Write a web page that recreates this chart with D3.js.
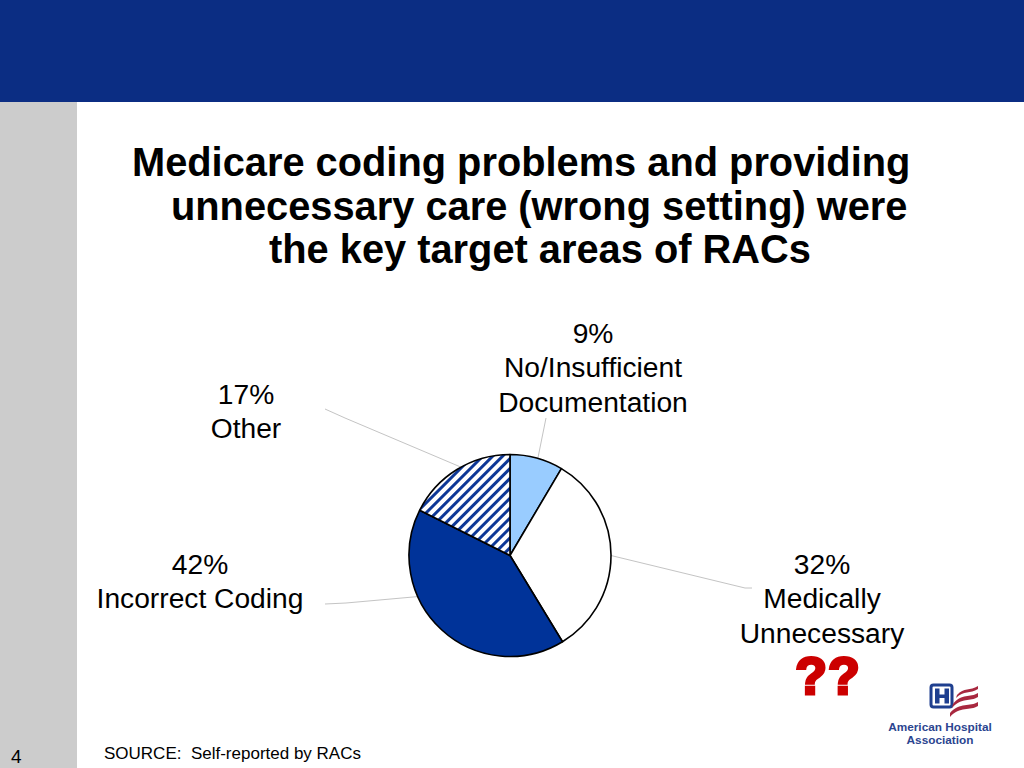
<!DOCTYPE html>
<html>
<head>
<meta charset="utf-8">
<script src="https://cdn.jsdelivr.net/npm/d3@7"></script>
<style>
  html, body { margin: 0; padding: 0; background: #fff; }
  svg { display: block; }
  text { font-family: "Liberation Sans", Arial, sans-serif; fill: #000; white-space: pre; }
</style>
</head>
<body>
<div id="chart"></div>
<script>
var titleLines = ["Medicare coding problems and providing", "unnecessary care (wrong setting) were", "the key target areas of RACs"];
var categories = ["No/Insufficient Documentation", "Medically Unnecessary", "Incorrect Coding", "Other"];
// slice sizes as drawn in the picture, the printed labels are rounded differently
var values = [8.5, 32.8, 41.1, 17.6];
var labelLines = [["9%", "No/Insufficient", "Documentation"], ["32%", "Medically", "Unnecessary"], ["42%", "Incorrect Coding"], ["17%", "Other"]];
var sourceText = "SOURCE:  Self-reported by RACs";
var pageNumber = "4";
var logoLines = ["American Hospital", "Association"];

var width = 1024, height = 768;
var cx = 510, cy = 555.5, radius = 101;

var svg = d3.select("#chart").append("svg")
  .attr("width", width)
  .attr("height", height);

// slide background
svg.append("rect").attr("x", 0).attr("y", 0).attr("width", width).attr("height", height).attr("fill", "#fff");
svg.append("rect").attr("x", 0).attr("y", 102).attr("width", 77).attr("height", height - 102).attr("fill", "#cccccc");
svg.append("rect").attr("x", 0).attr("y", 0).attr("width", width).attr("height", 102).attr("fill", "#0b2d83");

// title, hanging indent like the slide
var titleX = [132, 171, 269];
svg.selectAll(".title").data(titleLines).enter().append("text")
  .attr("class", "title")
  .attr("x", function(d, i) { return titleX[i]; })
  .attr("y", function(d, i) { return 176 + i * 43.5; })
  .attr("font-size", 39.8)
  .attr("font-weight", "bold")
  .text(function(d) { return d; });

// hatch for the "Other" slice
var defs = svg.append("defs");
var hatch = defs.append("pattern")
  .attr("id", "hatch")
  .attr("patternUnits", "userSpaceOnUse")
  .attr("width", 7)
  .attr("height", 7)
  .attr("patternTransform", "rotate(45)");
hatch.append("rect").attr("width", 7).attr("height", 7).attr("fill", "#fff");
hatch.append("rect").attr("width", 3).attr("height", 7).attr("fill", "#0d3796");

var colors = ["#99ccff", "#ffffff", "#003399", "url(#hatch)"];

var pie = d3.pie().sort(null).value(function(d) { return d; });
var arc = d3.arc().innerRadius(0).outerRadius(radius);
var arcs = pie(values);

var main = svg.append("g")
  .attr("transform", "translate(" + cx + "," + cy + ")");

// leader lines go under the pie; each one is angle on the rim, then elbow and end in page coordinates
var leaderAngle = [16, 90, 246, 331];
var leaderElbow = [[546, 418], [745, 588], [346, 603], [345, 418]];
var leaderEnd = [[546, 418], [752, 588], [325, 604], [325, 409]];
main.selectAll(".leader").data(values).enter().append("polyline")
  .attr("class", "leader")
  .attr("fill", "none")
  .attr("stroke", "#c4c4c4")
  .attr("stroke-width", 1)
  .attr("points", function(d, i) {
    var a = leaderAngle[i] * Math.PI / 180;
    return [
      [Math.sin(a) * radius, -Math.cos(a) * radius],
      [leaderElbow[i][0] - cx, leaderElbow[i][1] - cy],
      [leaderEnd[i][0] - cx, leaderEnd[i][1] - cy]
    ].join(" ");
  });

main.selectAll(".slice").data(arcs).enter().append("path")
  .attr("class", "slice")
  .attr("d", arc)
  .attr("fill", function(d, i) { return colors[i]; })
  .attr("stroke", "#000")
  .attr("stroke-width", 1.6)
  .attr("stroke-linejoin", "round")
  .append("title").text(function(d, i) { return categories[i] + ": " + labelLines[i][0]; });

// slice labels
var labelX = [593, 822, 200, 246];
var labelY = [343, 574, 574, 404];
labelLines.forEach(function(lines, i) {
  svg.selectAll(".label" + i).data(lines).enter().append("text")
    .attr("class", "label" + i)
    .attr("x", labelX[i])
    .attr("y", function(d, j) { return labelY[i] + j * 34.4; })
    .attr("text-anchor", "middle")
    .attr("font-size", 28.2)
    .text(function(d) { return d; });
});

// red question marks
svg.append("text")
  .attr("x", 828)
  .attr("y", 694)
  .attr("text-anchor", "middle")
  .attr("font-size", 52)
  .attr("font-weight", "bold")
  .attr("letter-spacing", 1)
  .style("fill", "#cc0000")
  .attr("stroke", "#cc0000")
  .attr("stroke-width", 3)
  .text("??");

// footer
svg.append("text").attr("x", 104).attr("y", 759).attr("font-size", 17).text(sourceText);
svg.append("text").attr("x", 11).attr("y", 763).attr("font-size", 19).text(pageNumber);

// AHA logo
var logo = svg.append("g");
logo.append("rect").attr("x", 931).attr("y", 685).attr("width", 21).attr("height", 22).attr("rx", 2.5)
  .attr("fill", "#fff").attr("stroke", "#1f3f8f").attr("stroke-width", 3);
logo.append("path").attr("d", "M935 688.5h4.5v6h5v-6h4.5v15h-4.5v-5.5h-5v5.5h-4.5z").attr("fill", "#1f3f8f");
var flagStripes = [
  "M957 695C964 687 970 691 978 686V689C970 694 964 690 956 698Z",
  "M953 704C962 693 970 698 978 693V697C970 702 962 697 952 708Z",
  "M950 713C960 702 970 707 978 702V706C970 711 960 706 950 717Z"
];
logo.selectAll(".stripe").data(flagStripes).enter().append("path")
  .attr("class", "stripe")
  .attr("d", function(d) { return d; })
  .attr("fill", "#a8283f");
logo.selectAll(".logotext").data(logoLines).enter().append("text")
  .attr("class", "logotext")
  .attr("x", 940)
  .attr("y", function(d, i) { return 731 + i * 12.5; })
  .attr("text-anchor", "middle")
  .attr("font-size", 11.8)
  .attr("font-weight", "bold")
  .style("fill", "#2b4590")
  .text(function(d) { return d; });
</script>
</body>
</html>
